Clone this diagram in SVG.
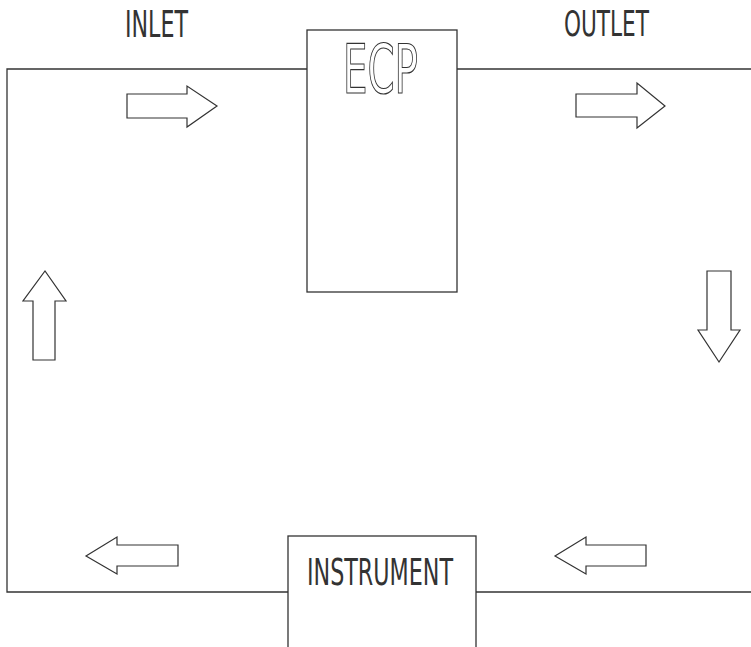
<svg xmlns="http://www.w3.org/2000/svg" width="751" height="647" viewBox="0 0 751 647">
<style>
.ln{fill:none;stroke:#333;stroke-width:1.3}
.box{fill:#fff;stroke:#333;stroke-width:1.3}
.arr{fill:#fff;stroke:#333;stroke-width:1.2;stroke-linejoin:miter}
.lbl{font-family:"DejaVu Sans Condensed","DejaVu Sans",sans-serif;fill:#333}
.hollow{font-family:"DejaVu Sans Condensed","DejaVu Sans",sans-serif;fill:#fff;stroke:#333;stroke-width:1.2}
</style>
<rect width="751" height="647" fill="#fff"/>
<g id="connectors">
<polyline class="ln" points="307,69 7,69 7,592 288,592"/>
<line class="ln" x1="457" y1="69" x2="751" y2="69"/>
<line class="ln" x1="476" y1="592" x2="751" y2="592"/>
</g>
<g id="inlet-label"><text class="lbl" x="125" y="37" font-size="37" textLength="63" lengthAdjust="spacingAndGlyphs">INLET</text></g>
<g id="outlet-label"><text class="lbl" x="564" y="36" font-size="36" textLength="85" lengthAdjust="spacingAndGlyphs">OUTLET</text></g>
<g id="ecp">
<rect class="box" x="307" y="30" width="150" height="262"/>
<text class="hollow" x="343" y="93" font-size="68" textLength="75" lengthAdjust="spacingAndGlyphs">ECP</text>
</g>
<g id="instrument">
<rect class="box" x="288" y="536" width="188" height="120"/>
<text class="lbl" x="307" y="585" font-size="38" textLength="146" lengthAdjust="spacingAndGlyphs">INSTRUMENT</text>
</g>
<g id="arrow-inlet"><polygon class="arr" points="127,94 187,94 187,86 217,106 187,127 187,118 127,118"/></g>
<g id="arrow-outlet"><polygon class="arr" points="576,94 637,94 637,83 665,106 637,128 637,117 576,117"/></g>
<g id="arrow-down"><polygon class="arr" points="707,271 731,271 731,330 740,330 719,362 698,330 707,330"/></g>
<g id="arrow-up"><polygon class="arr" points="33,360 55,360 55,301 66,301 45,271 23,301 33,301"/></g>
<g id="arrow-left-1"><polygon class="arr" points="178,545 178,566 117,566 117,574 86,556 117,537 117,545"/></g>
<g id="arrow-left-2"><polygon class="arr" points="646,545 646,566 586,566 586,574 555,556 586,537 586,545"/></g>
</svg>
